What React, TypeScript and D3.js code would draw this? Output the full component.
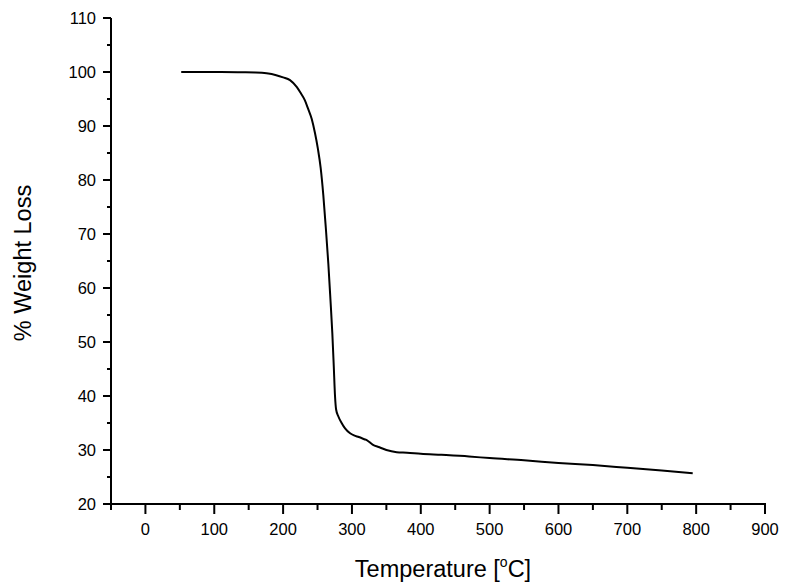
import React from "react";
import * as d3 from "d3";

const temps = [52, 80, 110, 140, 160, 176, 190, 200, 210, 220, 226, 231.5, 236, 241.6, 246.3, 250.5, 254.6, 258.4, 262, 265.7, 268.7, 271.5, 273.6, 275.4, 277, 280.3, 285, 290, 297.3, 303, 310, 318, 322, 330, 340, 350, 365, 380, 400, 430, 470, 500, 550, 600, 650, 700, 750, 795];
const weights = [100, 100, 100, 99.95, 99.9, 99.75, 99.4, 99.0, 98.5, 97.2, 96, 94.8, 93.3, 91.3, 88.7, 85.8, 82.2, 77.2, 71.2, 64.5, 58, 51.6, 45.5, 40, 37.5, 36.2, 35, 34, 33.1, 32.7, 32.4, 32, 31.8, 31, 30.5, 30, 29.6, 29.5, 29.3, 29.1, 28.8, 28.5, 28.1, 27.6, 27.2, 26.7, 26.2, 25.7];

const xMajor = [0, 100, 200, 300, 400, 500, 600, 700, 800, 900];
const xMinor = [-50, 50, 150, 250, 350, 450, 550, 650, 750, 850];
const yMajor = [20, 30, 40, 50, 60, 70, 80, 90, 100, 110];
const yMinor = [25, 35, 45, 55, 65, 75, 85, 95, 105];

export default function App() {
  const W = 790, H = 588;
  const x = d3.scaleLinear().domain([-50, 900]).range([111, 765]);
  const y = d3.scaleLinear().domain([20, 110]).range([504, 18]);
  const pts = temps.map((t, i) => [t, weights[i]] as [number, number]);
  const line = d3.line<[number, number]>().x(d => x(d[0])).y(d => y(d[1])).curve(d3.curveMonotoneX);
  const font = "'Liberation Sans', Arial, sans-serif";
  return (
    <svg width={W} height={H} style={{ position: "absolute", left: 0, top: 0, background: "#fff" }} fontFamily={font}>
      <rect x={0} y={0} width={W} height={H} fill="#fff" />
      <path d={line(pts) || ""} fill="none" stroke="#000" strokeWidth={2} strokeLinejoin="round" />
      {/* Y axis */}
      <line x1={x(-50)} x2={x(-50)} y1={y(110)} y2={y(20) + 1} stroke="#000" strokeWidth={2} />
      {yMajor.map(v => (
        <g key={"ym" + v}>
          <line x1={x(-50) - 8} x2={x(-50)} y1={y(v)} y2={y(v)} stroke="#000" strokeWidth={2} />
          <text x={96} y={y(v) + 5.8} fontSize={16.5} textAnchor="end" fill="#000">{v}</text>
        </g>
      ))}
      {yMinor.map(v => (
        <line key={"yn" + v} x1={x(-50) - 4} x2={x(-50)} y1={y(v)} y2={y(v)} stroke="#000" strokeWidth={2} />
      ))}
      {/* X axis */}
      <line x1={x(-50) - 1} x2={x(900) + 1} y1={y(20)} y2={y(20)} stroke="#000" strokeWidth={2} />
      {xMajor.map(v => (
        <g key={"xm" + v}>
          <line x1={x(v)} x2={x(v)} y1={y(20)} y2={y(20) + 10} stroke="#000" strokeWidth={2} />
          <text x={x(v)} y={535} fontSize={16.5} textAnchor="middle" fill="#000">{v}</text>
        </g>
      ))}
      {xMinor.map(v => (
        <line key={"xn" + v} x1={x(v)} x2={x(v)} y1={y(20)} y2={y(20) + 6} stroke="#000" strokeWidth={2} />
      ))}
      <text x={443} y={577} fontSize={23.5} textAnchor="middle" fill="#000">
        Temperature [<tspan fontSize={14} dy={-10}>o</tspan><tspan dy={10}>C]</tspan>
      </text>
      <text transform={`translate(31,263) rotate(-90)`} fontSize={23.5} textAnchor="middle" fill="#000">% Weight Loss</text>
    </svg>
  );
}
